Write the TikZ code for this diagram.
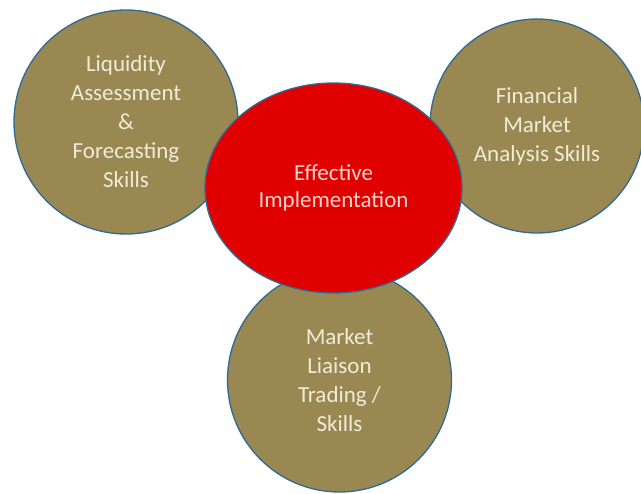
\documentclass[tikz,border=0pt]{standalone}
\usepackage{fontspec}
\setmainfont{Carlito}
\usetikzlibrary{shapes.geometric}
\definecolor{skillfill}{HTML}{998851}
\definecolor{corefill}{HTML}{E00000}
\definecolor{rimblue}{HTML}{2E6A94}
\definecolor{skilltext}{HTML}{F0ECD8}
\definecolor{coretext}{HTML}{F8D4CC}
\tikzset{
  skill/.style={circle, draw=rimblue, line width=1.3pt, fill=skillfill,
    inner sep=0pt, align=center, text=skilltext,
    font=\fontsize{23}{29}\selectfont},
  core/.style={ellipse, draw=rimblue, line width=1.3pt, fill=corefill,
    inner sep=0pt, align=center, text=coretext,
    font=\fontsize{23}{27}\selectfont},
}
\begin{document}
\begin{tikzpicture}[x=1pt,y=-1pt]
  \useasboundingbox (0,0) rectangle (641,494);
  \clip (0,0) rectangle (641,494);
  \node[skill, minimum size=224pt] (liq) at (126,122)
    {Liquidity\\Assessment\\\&\\Forecasting\\Skills};
  \node[skill, minimum size=214pt] (fin) at (537,126)
    {Financial\\Market\\Analysis Skills};
  \node[skill, minimum size=224pt] (mkt) at (339.5,380)
    {Market\\Liaison\\Trading /\\Skills};
  \node[core, minimum width=257pt, minimum height=210pt] (eff) at (333.5,188)
    {Effective\\Implementation};
\end{tikzpicture}
\end{document}
